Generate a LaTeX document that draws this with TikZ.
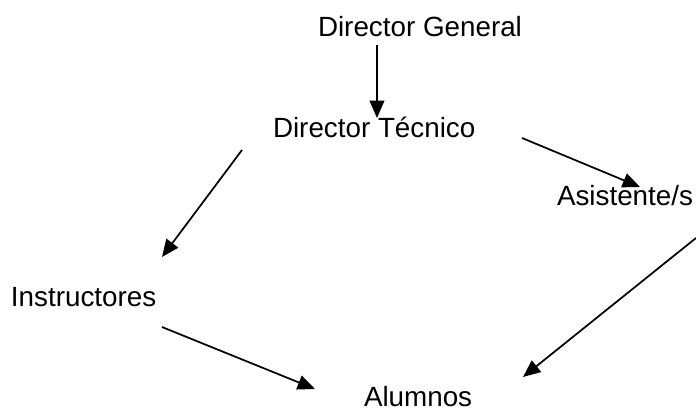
\documentclass[tikz,border=0pt]{standalone}
\usepackage{fontspec}
\setmainfont{Liberation Sans}
\usepackage{tikz}
\usetikzlibrary{math,arrows.meta}

\begin{document}
\begin{tikzpicture}[x=0.75pt, y=-0.75pt,
	every node/.style={inner sep=0pt, outer sep=0pt, anchor=base west, font=\fontsize{20.85}{25}\selectfont},
	flecha/.style={line width=1.3pt, -{Triangle[length=13pt, width=11pt]}}]
	\tikzmath{
		\W = 696;
		\H = 411;
	}
	\useasboundingbox (0,0) rectangle (\W,\H);

	\node (dirGeneral) at (318,36) {Director General};
	\node (dirTecnico) at (273,137) {Director Técnico};
	\node (asistentes) at (557,205) {Asistente/s};
	\node (instructores) at (11,306) {Instructores};
	\node (alumnos) at (364,406) {Alumnos};

	% puntas de las flechas
	\coordinate (dgSal) at (377,45);
	\coordinate (dtEnt) at (377,118);
	\coordinate (dtIzq) at (242,150);
	\coordinate (insEnt) at (162,257);
	\coordinate (dtDer) at (522,138);
	\coordinate (asEnt) at (640,187);
	\coordinate (asSal) at (696,238);
	\coordinate (alDer) at (523,377);
	\coordinate (insSal) at (162,327);
	\coordinate (alIzq) at (315,389);

	\draw[flecha] (dgSal) -- (dtEnt);
	\draw[flecha] (dtIzq) -- (insEnt);
	\draw[flecha] (dtDer) -- (asEnt);
	\draw[flecha] (asSal) -- (alDer);
	\draw[flecha] (insSal) -- (alIzq);
\end{tikzpicture}
\end{document}
